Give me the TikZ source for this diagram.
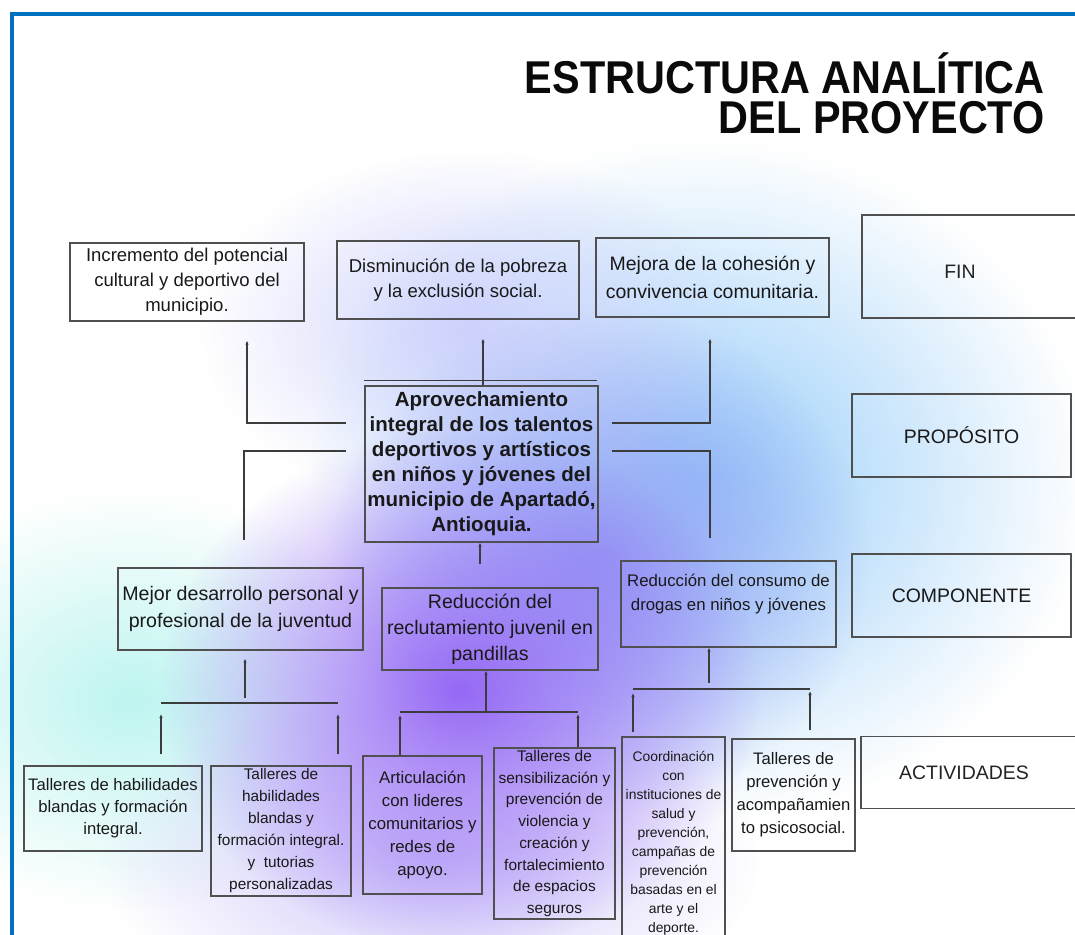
\documentclass[tikz,border=0pt]{standalone}
\usepackage{fontspec}
\setmainfont{Liberation Sans}
\newfontfamily\titlefont{Liberation Sans Bold}[FakeStretch=0.9]
\usetikzlibrary{arrows.meta,fadings}

\newcommand{\pix}{0.75pt}

\tikzfading[name=nube, inner color=transparent!0, outer color=transparent!100]

\tikzset{
  caja/.style={draw={rgb, 255:red, 80; green, 80; blue, 80}, line width=0.9pt, inner sep=0pt, align=center,
    text={rgb, 255:red, 25; green, 25; blue, 25}},
  tam/.style 2 args={minimum width=#1*\pix, minimum height=#2*\pix},
  etiqueta/.style={inner sep=0pt, font=\fontsize{14.6}{17}\selectfont, text={rgb, 255:red, 35; green, 35; blue, 35}},
  linea/.style={draw={rgb, 255:red, 60; green, 60; blue, 60}, line width=0.9pt},
  flecha/.style={linea, -{Latex[length=3pt, width=2.6pt]}},
}

\begin{document}
\begin{tikzpicture}[x=0.75pt,y=0.75pt,yscale=-1,xscale=1]

\useasboundingbox (0,0) rectangle (1075,935);

% Fondo: blanco con manchas de color difuminadas
\fill[white] (0,0) rectangle (1075,935);
\fill[fill={rgb, 255:red, 150; green, 205; blue, 250}, path fading=nube] (700,480) ellipse (390 and 340);
\fill[fill={rgb, 255:red, 205; green, 210; blue, 252}, path fading=nube] (470,330) ellipse (270 and 180);
\fill[fill={rgb, 255:red, 190; green, 245; blue, 240}, path fading=nube] (130,700) ellipse (270 and 210);
\fill[fill={rgb, 255:red, 150; green, 160; blue, 245}, path fading=nube] (600,560) ellipse (270 and 250);
\fill[fill={rgb, 255:red, 205; green, 195; blue, 250}, path fading=nube] (430,860) ellipse (330 and 170);
\fill[fill={rgb, 255:red, 150; green, 105; blue, 245}, path fading=nube] (460,690) ellipse (300 and 260);

% Marco azul (arriba e izquierda)
\draw[draw={rgb, 255:red, 0; green, 112; blue, 192}, line width=3pt] (12,935) -- (12,14) -- (1075,14);

% Titulo
\node[anchor=base east, align=right, inner sep=0pt, font=\titlefont\fontsize{34.5}{30}\selectfont,
  text={rgb, 255:red, 10; green, 10; blue, 10}] (titulo) at (1045,133.5) {ESTRUCTURA ANALÍTICA\\DEL PROYECTO};

% Fila FIN
\node[caja, tam={234}{78}, font=\fontsize{13.9}{18.75}\selectfont] (fA) at (187,282) {Incremento del potencial\\cultural y deportivo del\\municipio.};
\node[caja, tam={242}{78}, font=\fontsize{13.9}{18.75}\selectfont] (fB) at (458,280) {Disminución de la pobreza\\y la exclusión social.};
\node[caja, tam={233}{79}, font=\fontsize{14.6}{21}\selectfont] (fC) at (712.5,277.5) {Mejora de la cohesión y\\convivencia comunitaria.};

% Proposito
\node[caja, tam={233}{156}, font=\bfseries\fontsize{15.4}{18.75}\selectfont] (prop) at (481.5,464) {Aprovechamiento\\integral de los talentos\\deportivos y artísticos\\en niños y jóvenes del\\municipio de Apartadó,\\Antioquia.};
\draw[linea] (prop.north west) ++(0,-5) -- ++(233,0);

% Componentes
\node[caja, tam={245}{82}, font=\fontsize{14.7}{20.5}\selectfont] (cD) at (240.5,609) {Mejor desarrollo personal y\\profesional de la juventud};
\node[caja, tam={216}{82}, font=\fontsize{14.7}{19.5}\selectfont] (cE) at (490,629) {Reducción del\\reclutamiento juvenil en\\pandillas};
\node[caja, tam={215}{86}, font=\fontsize{12.6}{18}\selectfont] (cF) at (728.5,604) {Reducción del consumo de\\drogas en niños y jóvenes\\\mbox{}};

% Actividades
\node[caja, tam={178}{85}, font=\fontsize{12.5}{16.5}\selectfont] (aG) at (113,808.5) {Talleres de habilidades\\blandas y formación\\integral.};
\node[caja, tam={140}{130}, font=\fontsize{11.55}{16.5}\selectfont] (aH) at (281,831) {Talleres de\\habilidades\\blandas y\\formación integral.\\y\ \ tutorias\\personalizadas};
\node[caja, tam={119}{138}, font=\fontsize{12.6}{17.25}\selectfont] (aI) at (422.5,825) {Articulación\\con lideres\\comunitarios y\\redes de\\apoyo.};
\node[caja, tam={121}{171}, font=\fontsize{11.6}{16.3}\selectfont] (aJ) at (554.5,833.5) {Talleres de\\sensibilización y\\prevención de\\violencia y\\creación y\\fortalecimiento\\de espacios\\seguros};
\node[caja, tam={103}{213}, font=\fontsize{10.4}{14.25}\selectfont] (aK) at (673.5,843.5) {Coordinación\\con\\instituciones de\\salud y\\prevención,\\campañas de\\prevención\\basadas en el\\arte y el\\deporte.};
\node[caja, tam={123}{112}, font=\fontsize{12.5}{17.25}\selectfont] (aL) at (793.5,795) {Talleres de\\prevención y\\acompañamien\\to psicosocial.};

% Niveles (columna derecha)
\node[caja, tam={218}{103}] (cajaFin) at (971,266.5) {};
\node[etiqueta] (fin) at (960,272) {FIN};
\node[caja, tam={219}{83}, font=\fontsize{14.6}{17}\selectfont] (proposito) at (961.5,435.5) {PROPÓSITO};
\node[caja, tam={219}{83}, font=\fontsize{14.6}{17}\selectfont] (componente) at (961.5,595.5) {COMPONENTE};
\node[caja, tam={219}{72}] (cajaAct) at (970.5,772.5) {};
\node[etiqueta] (actividades) at (964,772.5) {ACTIVIDADES};

% Conectores: proposito -> fin
\coordinate (kA) at (247,423);
\coordinate (kB) at (483,382);
\coordinate (kC) at (710,423);
\draw[flecha, shorten <=18*\pix, shorten >=19*\pix] (prop.west |- kA) -| (fA.south -| kA);
\draw[flecha, shorten >=19*\pix] (prop.north -| kB) -- (fB.south -| kB);
\draw[flecha, shorten <=13*\pix, shorten >=21*\pix] (prop.east |- kC) -| (fC.south -| kC);

% Conectores: proposito -> componentes
\coordinate (kD) at (244,451);
\coordinate (kF) at (710,451);
\coordinate (kE) at (480,565);
\draw[linea, shorten <=18*\pix, shorten >=27*\pix] (prop.west |- kD) -| (cD.north -| kD);
\draw[linea, shorten <=13*\pix, shorten >=22*\pix] (prop.east |- kF) -| (cF.north -| kF);
\draw[flecha, shorten <=23*\pix] (cE.north -| kE) -- (prop.south -| kE);

% Conectores: componentes -> actividades
\coordinate (bD) at (245,703);
\coordinate (bDi) at (161,703);
\coordinate (bDd) at (338,703);
\draw[flecha, shorten <=5*\pix, shorten >=8*\pix] (bD) -- (cD.south -| bD);
\draw[linea] (bDi) -- (bDd);
\draw[flecha, shorten <=11*\pix, shorten >=11*\pix] (aG.north -| bDi) -- (bDi);
\draw[flecha, shorten <=11*\pix, shorten >=11*\pix] (aH.north -| bDd) -- (bDd);

\coordinate (bE) at (486,712);
\coordinate (bEi) at (400,712);
\coordinate (bEd) at (578,712);
\draw[flecha] (bE) -- (cE.south -| bE);
\draw[linea] (bEi) -- (bEd);
\draw[flecha, shorten >=3*\pix] (aI.north -| bEi) -- (bEi);
\draw[flecha, shorten >=2*\pix] (aJ.north -| bEd) -- (bEd);

\coordinate (bF) at (709,689);
\coordinate (bFi) at (633,689);
\coordinate (bFd) at (810,689);
\draw[flecha, shorten <=6*\pix] (bF) -- (cF.south -| bF);
\draw[linea] (bFi) -- (bFd);
\draw[flecha, shorten <=4*\pix, shorten >=4*\pix] (aK.north -| bFi) -- (bFi);
\draw[flecha, shorten <=8*\pix, shorten >=2*\pix] (aL.north -| bFd) -- (bFd);

\end{tikzpicture}
\end{document}
